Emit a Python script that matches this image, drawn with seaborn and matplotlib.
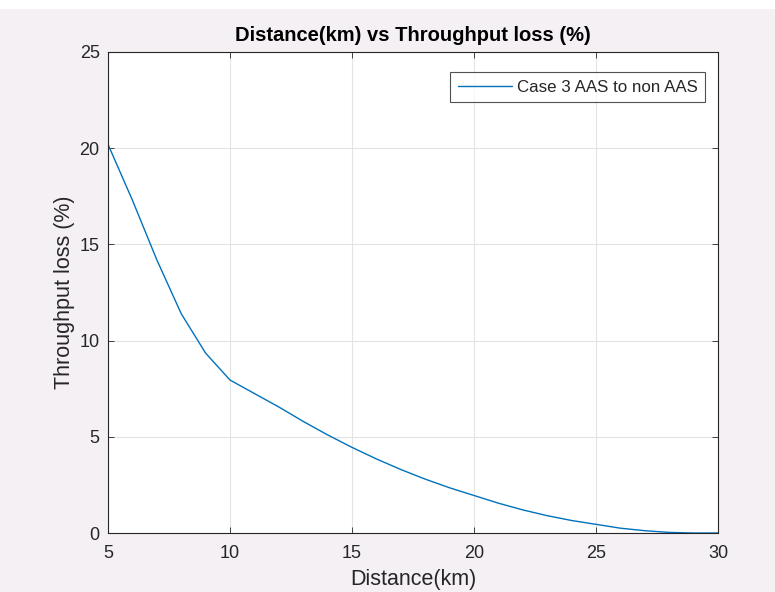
import matplotlib
matplotlib.use("Agg")
import matplotlib.pyplot as plt
import seaborn as sns
import pandas as pd

distance_km = [5, 6, 7, 8, 9, 10, 11, 12, 13, 14, 15, 16, 17, 18, 19, 20,
               21, 22, 23, 24, 25, 26, 27, 28, 29, 30]
throughput_loss = [20.2, 17.3, 14.2, 11.4, 9.35, 7.95, 7.25, 6.55, 5.8, 5.1, 4.45,
                   3.85, 3.3, 2.8, 2.35, 1.95, 1.55, 1.2, 0.9, 0.65, 0.45,
                   0.25, 0.12, 0.03, 0.0, 0.0]
series_label = "Case 3 AAS to non AAS"
x_ticks = [5, 10, 15, 20, 25, 30]
y_ticks = [0, 5, 10, 15, 20, 25]

df = pd.DataFrame({"Distance": distance_km, "Loss": throughput_loss,
                   "Series": series_label})

sns.set_theme(style="ticks")
plt.rcParams["font.family"] = ["Liberation Sans", "DejaVu Sans"]

bg = "#f4f0f4"
fig = plt.figure(figsize=(7.75, 5.92), dpi=100, facecolor=bg)
fig.patches.append(plt.Rectangle((0, 1 - 8 / 592), 1, 8 / 592, transform=fig.transFigure,
                                 color="white", zorder=-1))
ax = fig.add_axes([108 / 775, 1 - 533 / 592, 610 / 775, 481 / 592])
ax.set_facecolor("white")

sns.lineplot(data=df, x="Distance", y="Loss", hue="Series", palette=["#0072BD"],
             linewidth=1.0, ax=ax)

ax.set_xlim(5, 30)
ax.set_ylim(0, 25)
ax.set_xticks(x_ticks)
ax.set_yticks(y_ticks)
ax.grid(True, color="#e3e3e3", linewidth=0.8)
ax.tick_params(direction="in", length=4, width=0.6, colors="#262626",
               labelsize=13, top=True, right=True)
ax.tick_params(axis="x", pad=9)
ax.tick_params(axis="y", pad=6)
for s in ax.spines.values():
    s.set_color("#262626")
    s.set_linewidth(0.8)

ax.set_xlabel("Distance(km)", fontsize=15.5, color="#262626", labelpad=5)
ax.set_ylabel("Throughput loss (%)", fontsize=15.5, color="#262626", labelpad=3)
ax.set_title("Distance(km) vs Throughput loss (%)", fontsize=14.5, fontweight="bold",
             color="black", pad=8)

leg = ax.legend(loc="upper right", bbox_to_anchor=(0.9787, 0.9584), borderaxespad=0,
                fontsize=12.2, frameon=True, fancybox=False,
                edgecolor="#262626", handlelength=3.2, handletextpad=0.25,
                borderpad=0.45)
leg.get_frame().set_linewidth(0.8)
for t in leg.get_texts():
    t.set_color("#262626")

fig.savefig("out.png", dpi=100, facecolor=bg)
